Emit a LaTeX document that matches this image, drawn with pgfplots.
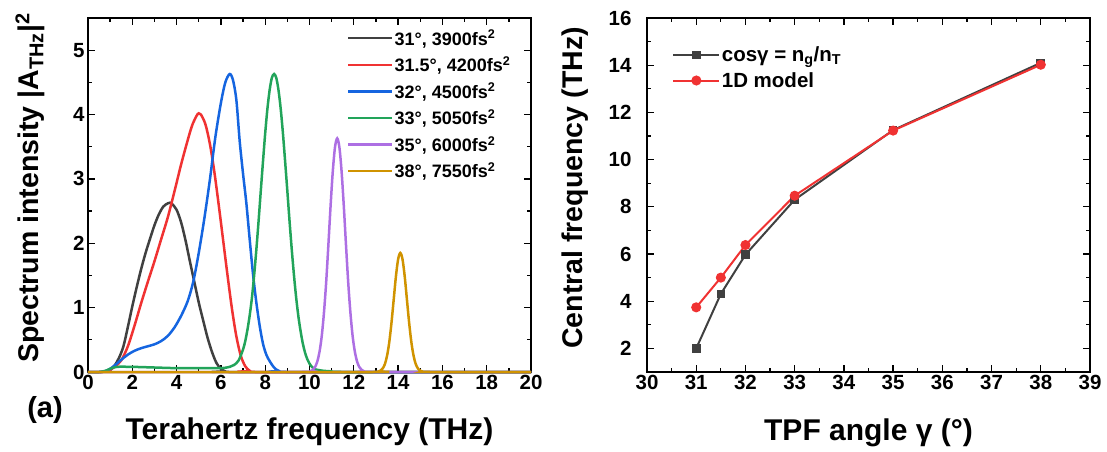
\documentclass[border=0pt]{standalone}
\usepackage{fontspec}
\setmainfont{Liberation Sans}
\usepackage{pgfplots}
\pgfplotsset{compat=1.18}

\definecolor{cblack}{HTML}{404040}
\definecolor{cred}{HTML}{F03232}
\definecolor{cblue}{HTML}{1565E0}
\definecolor{cgreen}{HTML}{22A45A}
\definecolor{cpurple}{HTML}{AD6FE3}
\definecolor{corange}{HTML}{D09300}

\pgfplotsset{
  panel/.style={
    scale only axis, width=443pt, height=354pt,
    axis line style={line width=1.6pt},
    tick style={line width=1.3pt, black},
    major tick length=7pt, minor tick length=4pt,
    tick align=inside,
    /pgf/number format/assume math mode=true,
    tick label style={font=\fontsize{20.5}{24}\selectfont\bfseries},
    xlabel style={font=\fontsize{30}{34}\selectfont\bfseries},
    ylabel style={font=\fontsize{28.5}{32}\selectfont\bfseries},
    legend style={draw=none, fill=none,
      font=\fontsize{18}{21}\selectfont\bfseries,
      nodes={inner xsep=1.5pt},
      row sep=6pt, cells={anchor=west}},
  },
}

\begin{document}
\begin{tikzpicture}
\path[use as bounding box] (-88pt,-79pt) rectangle (1019pt,372pt);

% (a) spectra
\begin{axis}[panel,
  xmin=0, xmax=20, ymin=0, ymax=5.5,
  xtick={0,2,...,20}, minor xtick={1,3,...,19},
  ytick={0,1,2,3,4,5}, minor ytick={0.5,1.5,2.5,3.5,4.5,5.5},
  clip=false,
  xlabel={Terahertz frequency (THz)},
  ylabel={Spectrum intensity |A\textsubscript{THz}|\textsuperscript{2}},
  xlabel style={at={(axis description cs:0.5,-0.17)}, anchor=center},
  ylabel style={at={(axis description cs:-0.131,0.52)}, anchor=center},
  legend style={at={(0.577,0.978)}, anchor=north west},
  legend image code/.code={\draw[#1, line width=2.4pt] (0pt,0pt) -- (44pt,0pt);},
  every axis plot post/.append style={line width=2.5pt, smooth},
]
\addplot[cblack] coordinates {
(0,0)(0.5,0)(0.8,0.01)(1.0,0.03)(1.2,0.1)(1.4,0.22)(1.6,0.4)(1.8,0.7)
(2.0,1.02)(2.2,1.32)(2.4,1.6)(2.6,1.85)(2.8,2.07)(3.0,2.28)(3.2,2.45)
(3.4,2.57)(3.6,2.62)(3.7,2.63)(3.8,2.61)(4.0,2.52)(4.2,2.33)(4.4,2.05)
(4.6,1.72)(4.8,1.4)(5.0,1.08)(5.2,0.8)(5.4,0.53)(5.6,0.31)(5.8,0.14)
(6.0,0.05)(6.2,0.01)(6.5,0)(20,0)};
\addlegendentry{31°, 3900fs\textsuperscript{2}}
\addplot[cred] coordinates {
(0,0)(0.6,0)(0.9,0.02)(1.2,0.08)(1.5,0.18)(1.8,0.4)(2.1,0.72)(2.4,1.07)
(2.7,1.4)(3.0,1.72)(3.3,2.06)(3.6,2.4)(3.9,2.8)(4.2,3.22)(4.5,3.6)
(4.7,3.83)(4.9,3.98)(5.0,4.02)(5.1,4.0)(5.3,3.85)(5.5,3.55)(5.7,3.12)
(5.9,2.6)(6.1,2.05)(6.3,1.5)(6.5,0.98)(6.7,0.55)(6.9,0.25)(7.1,0.09)
(7.3,0.02)(7.6,0)(20,0)};
\addlegendentry{31.5°, 4200fs\textsuperscript{2}}
\addplot[cblue] coordinates {
(0,0)(0.6,0)(0.9,0.03)(1.2,0.1)(1.5,0.19)(1.8,0.27)(2.1,0.33)(2.4,0.37)
(2.7,0.4)(3.0,0.43)(3.3,0.48)(3.6,0.56)(3.9,0.69)(4.2,0.87)(4.5,1.1)
(4.75,1.4)(5.0,1.85)(5.25,2.38)(5.5,2.98)(5.75,3.65)(6.0,4.18)(6.2,4.5)
(6.4,4.63)(6.55,4.53)(6.7,4.22)(6.85,3.58)(7.0,3.08)(7.15,2.62)(7.3,2.06)
(7.45,1.52)(7.6,1.08)(7.75,0.72)(7.9,0.44)(8.05,0.27)(8.2,0.17)(8.4,0.07)
(8.6,0.02)(9,0)(20,0)};
\addlegendentry{32°, 4500fs\textsuperscript{2}}
\addplot[cgreen] coordinates {
(0,0)(0.5,0)(0.8,0.02)(1.0,0.05)(1.3,0.08)(2,0.08)(3,0.07)(4,0.06)(5,0.06)
(6,0.06)(6.4,0.08)(6.6,0.11)(6.8,0.18)(7.0,0.35)(7.1,0.48)(7.2,0.66)
(7.3,0.88)(7.4,1.15)(7.5,1.5)(7.6,1.9)(7.7,2.34)(7.8,2.81)(7.9,3.27)
(8.0,3.71)(8.1,4.09)(8.2,4.38)(8.3,4.57)(8.4,4.63)(8.5,4.57)(8.6,4.38)
(8.7,4.09)(8.8,3.71)(8.9,3.27)(9.0,2.81)(9.1,2.34)(9.2,1.9)(9.3,1.5)
(9.4,1.15)(9.5,0.86)(9.6,0.63)(9.7,0.44)(9.8,0.3)(9.9,0.2)(10.0,0.13)
(10.2,0.05)(10.6,0.02)(11,0.01)(11.5,0)(20,0)};
\addlegendentry{33°, 5050fs\textsuperscript{2}}
\addplot[cpurple] coordinates {
(0,0)(9.6,0)(10.05,0.014)(10.15,0.034)(10.25,0.077)(10.35,0.16)(10.45,0.31)
(10.55,0.55)(10.65,0.91)(10.75,1.38)(10.85,1.96)(10.95,2.57)(11.05,3.11)
(11.15,3.49)(11.25,3.63)(11.35,3.49)(11.45,3.11)(11.55,2.57)(11.65,1.96)
(11.75,1.38)(11.85,0.91)(11.95,0.55)(12.05,0.31)(12.15,0.16)(12.25,0.077)
(12.35,0.034)(12.45,0.014)(12.9,0)(20,0)};
\addlegendentry{35°, 6000fs\textsuperscript{2}}
\addplot[corange] coordinates {
(0,0)(12.7,0)(13.1,0.007)(13.2,0.02)(13.3,0.053)(13.4,0.12)(13.5,0.25)
(13.6,0.46)(13.7,0.76)(13.8,1.12)(13.9,1.48)(14.0,1.75)(14.1,1.85)
(14.2,1.75)(14.3,1.48)(14.4,1.12)(14.5,0.76)(14.6,0.46)(14.7,0.25)
(14.8,0.12)(14.9,0.053)(15.0,0.02)(15.1,0.007)(15.5,0)(20,0)};
\addlegendentry{38°, 7550fs\textsuperscript{2}}
\node[font=\fontsize{29}{32}\selectfont\bfseries] at (rel axis cs:-0.097,-0.107) {(a)};
\end{axis}

% (b) central frequency
\begin{axis}[panel, at={(559pt,0pt)},
  xmin=30, xmax=39, ymin=1, ymax=16,
  xtick={30,...,39}, minor xtick={30.5,31.5,...,38.5},
  ytick={2,4,...,16}, minor ytick={1,3,...,15},
  yticklabel style={xshift=-12pt},
  xlabel={TPF angle γ (°)},
  ylabel={Central frequency (THz)},
  xlabel style={at={(axis description cs:0.5,-0.172)}, anchor=center},
  ylabel style={at={(axis description cs:-0.163,0.52)}, anchor=center},
  legend style={at={(0.05,0.93)}, anchor=north west, row sep=5pt,
    font=\fontsize{20.5}{24}\selectfont\bfseries},
  legend image code/.code={\draw[mark repeat=2, mark phase=2, #1]
    plot coordinates {(0pt,0pt) (23pt,0pt) (46pt,0pt)};},
]
\addplot[cblack, line width=2pt, mark=square*, mark size=3.3pt] coordinates {
(31,2.0)(31.5,4.31)(32,5.97)(33,8.3)(35,11.25)(38,14.1)};
\addlegendentry{cosγ = n\textsubscript{g}/n\textsubscript{T}}
\addplot[cred, line width=2pt, mark=*, mark size=4pt] coordinates {
(31,3.74)(31.5,5.0)(32,6.38)(33,8.47)(35,11.23)(38,14.02)};
\addlegendentry{1D model}
\node[font=\fontsize{29}{32}\selectfont\bfseries] at (rel axis cs:-0.079,-0.107) {(b)};
\end{axis}
\end{tikzpicture}
\end{document}
